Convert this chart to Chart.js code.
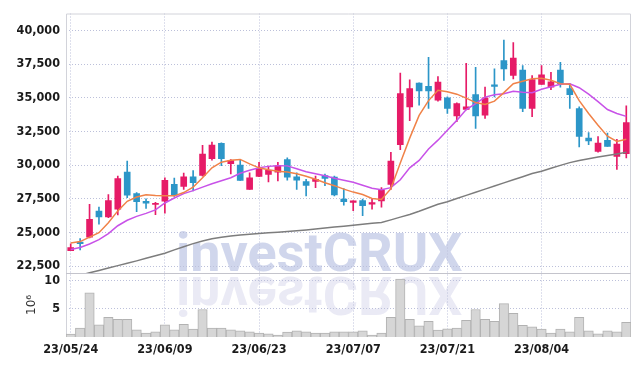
<!DOCTYPE html>
<html>
<head>
<meta charset="utf-8">
<script src="https://cdn.jsdelivr.net/npm/chart.js@4"></script>
<style>
  html, body { margin: 0; padding: 0; background: #fff; }
  #wrap { width: 639px; height: 366px; }
</style>
</head>
<body>
<div id="wrap"><canvas id="myChart"></canvas></div>
<script>
// trading days shown on the chart
const dates = [
  '23/05/24','23/05/25','23/05/26','23/05/30','23/05/31','23/06/01','23/06/02','23/06/05','23/06/07','23/06/08',
  '23/06/09','23/06/12','23/06/13','23/06/14','23/06/15','23/06/16','23/06/19','23/06/20','23/06/21','23/06/22',
  '23/06/23','23/06/26','23/06/27','23/06/28','23/06/29','23/06/30','23/07/03','23/07/04','23/07/05','23/07/06',
  '23/07/07','23/07/10','23/07/11','23/07/12','23/07/13','23/07/14','23/07/17','23/07/18','23/07/19','23/07/20',
  '23/07/21','23/07/24','23/07/25','23/07/26','23/07/27','23/07/28','23/07/31','23/08/01','23/08/02','23/08/03',
  '23/08/04','23/08/07','23/08/08','23/08/09','23/08/10','23/08/11','23/08/14','23/08/16','23/08/17','23/08/18'
];
const tickDates = ['23/05/24','23/06/09','23/06/23','23/07/07','23/07/21','23/08/04'];

const openPrices = [
  23650,24290,24650,26590,26150,26730,29480,27890,27320,27080,
  27320,28570,28420,29130,29230,30480,31610,30110,30000,28200,
  29160,29300,29480,30400,29130,28770,28790,29230,29110,27470,
  27230,27370,27100,27350,28570,31510,34320,36090,35840,34810,
  34990,33640,34130,35230,33710,35960,37750,36650,37060,34200,
  35980,35790,37060,35670,34200,32000,31020,31830,30650,30850
];
const closePrices = [
  23870,24170,25980,26150,27370,28990,27760,27280,27180,27150,
  28860,27760,29130,28690,30820,31480,30480,30330,28860,29060,
  29740,29610,29970,29110,28890,28500,28940,29010,27790,27280,
  27350,26980,27225,28160,30290,35300,35670,35500,35500,36160,
  34200,34570,34320,33640,34990,35840,37140,37950,34200,36350,
  36700,36180,36040,35230,32120,31800,31630,31390,31560,33150
];
const highPrices = [
  24150,24550,27080,26880,27810,29180,30290,27960,27500,27230,
  29060,29040,29410,29600,31460,31700,31650,30400,30400,29430,
  30210,29920,30210,30530,29430,28940,29190,29330,29190,28250,
  27350,27470,27470,28330,30950,36820,36330,36100,38000,36570,
  35060,34620,37560,37260,35790,37140,39270,39090,37380,36650,
  37380,36890,37630,36040,34320,32410,32120,32370,31920,34400
];
const lowPrices = [
  23650,23700,24600,25610,26100,26300,27590,26540,26790,26320,
  26440,27670,28200,28090,29180,30360,29950,29350,28860,28200,
  29150,28750,28820,28890,28200,27720,28330,28470,27720,27030,
  26620,26250,26730,26880,28200,31140,33300,34440,34200,34740,
  33830,33220,34100,32730,33470,35060,36280,36400,33960,33590,
  35980,35590,35790,34200,31340,31510,30950,31390,29670,30530
];

// moving averages
const ma5 = [
  24215,24325,24655,24986,25720,26601,27313,27629,27790,27739,
  27717,27717,27960,28362,29060,29795,30213,30360,30419,30088,
  29795,29648,29538,29486,29354,29170,28950,28693,28473,28216,
  27996,27812,27519,27445,28253,30160,32000,33686,34787,35558,
  35448,35264,34970,34640,34493,34750,35375,36035,36219,36402,
  36439,36292,36035,35998,34787,33833,32952,32144,31755,31924
];
const ma20 = [
  23737,23884,24141,24471,24912,25500,25904,26197,26417,26674,
  27188,27555,27886,28106,28363,28620,28840,29060,29390,29611,
  29795,29905,29956,29942,29722,29501,29354,29207,29023,28877,
  28730,28510,28289,28179,28326,28913,29795,30345,31190,31850,
  32584,33318,34126,34567,35044,35227,35300,35485,35411,35375,
  35632,35815,35998,36035,35741,35264,34713,34126,33833,33613
];
const ma60 = [
  21652,21830,22005,22180,22365,22540,22717,22893,23084,23275,
  23459,23708,23936,24170,24361,24530,24640,24743,24817,24868,
  24920,24971,25023,25074,25126,25192,25265,25331,25405,25470,
  25537,25610,25676,25742,25933,26138,26329,26571,26835,27093,
  27284,27519,27754,27981,28216,28444,28679,28906,29134,29369,
  29540,29765,29978,30184,30338,30463,30595,30705,30830,30947
];

// volume in millions
const volume = [
  0.52,1.57,7.85,2.15,3.49,3.14,3.14,1.27,0.70,0.92,
  2.15,1.27,2.27,1.40,4.89,1.57,1.57,1.27,1.10,0.92,
  0.70,0.58,0.35,0.87,1.10,0.92,0.70,0.70,0.92,0.92,
  0.92,1.10,0.35,0.70,3.49,10.3,3.14,1.97,2.79,1.22,
  1.45,1.57,2.97,4.89,3.14,2.79,5.93,4.19,2.09,1.80,
  1.40,0.70,1.40,0.92,3.49,1.10,0.58,1.10,0.92,2.62
];

const priceTicks = [22500, 25000, 27500, 30000, 32500, 35000, 37500, 40000];
const volumeTicks = [5, 10];

const upColor = 'rgb(230, 27, 103)';
const downColor = 'rgb(44, 150, 200)';
const candleColors = closePrices.map((c, i) => c >= openPrices[i] ? upColor : downColor);

const gridColor = '#bcc0da';
const labelFont = { family: "'DejaVu Sans Condensed', 'DejaVu Sans'", size: 12.5, weight: 'bold' };

// watermark (under the grid), frame and panel divider
const decorations = {
  id: 'decorations',
  beforeDraw(chart) {
    const { ctx, chartArea } = chart;
    const split = chart.scales.y.bottom;
    const tx = chartArea.left + 110;

    ctx.save();
    ctx.font = 'bold 54px Roboto';
    ctx.fillStyle = 'rgba(150, 165, 212, 0.45)';
    ctx.fillText('investCRUX', tx, split - 2);
    ctx.beginPath();
    ctx.rect(chartArea.left, split, chartArea.right - chartArea.left, chartArea.bottom - split);
    ctx.clip();
    ctx.translate(0, split * 2 + 2);
    ctx.scale(1, -1);
    ctx.fillStyle = 'rgba(150, 150, 205, 0.2)';
    ctx.fillText('investCRUX', tx, split - 2);
    ctx.restore();
  },
  beforeDatasetsDraw(chart) {
    const { ctx, chartArea } = chart;
    const split = chart.scales.y.bottom;
    ctx.save();
    ctx.lineWidth = 1;
    ctx.strokeStyle = '#d2d3da';
    ctx.beginPath();
    ctx.moveTo(chartArea.left + 0.5, chartArea.bottom);
    ctx.lineTo(chartArea.left + 0.5, chartArea.top + 0.5);
    ctx.lineTo(chartArea.right - 0.5, chartArea.top + 0.5);
    ctx.lineTo(chartArea.right - 0.5, chartArea.bottom);
    ctx.stroke();
    ctx.strokeStyle = '#c4c4cc';
    ctx.beginPath();
    ctx.moveTo(chartArea.left, Math.round(split) + 0.5);
    ctx.lineTo(chartArea.right, Math.round(split) + 0.5);
    ctx.stroke();
    ctx.restore();
  }
};

const ctx = document.getElementById('myChart').getContext('2d');
const myChart = new Chart(ctx, {
  type: 'bar',
  data: {
    labels: dates,
    datasets: [
      { type: 'line', label: 'MA5', data: ma5, borderColor: 'rgb(240, 130, 72)', borderWidth: 1.5, pointRadius: 0, yAxisID: 'y', order: 0 },
      { type: 'line', label: 'MA20', data: ma20, borderColor: 'rgb(200, 82, 232)', borderWidth: 1.5, pointRadius: 0, yAxisID: 'y', order: 0 },
      { type: 'line', label: 'MA60', data: ma60, borderColor: 'rgb(125, 125, 125)', borderWidth: 1.5, pointRadius: 0, yAxisID: 'y', order: 0 },
      {
        label: 'Body',
        data: openPrices.map((o, i) => [o, closePrices[i]]),
        backgroundColor: candleColors,
        barThickness: 6,
        minBarLength: 1,
        grouped: false,
        yAxisID: 'y',
        order: 1
      },
      {
        label: 'Wick',
        data: lowPrices.map((l, i) => [l, highPrices[i]]),
        backgroundColor: candleColors,
        barThickness: 1,
        grouped: false,
        yAxisID: 'y',
        order: 2
      },
      {
        label: 'Volume',
        data: volume,
        backgroundColor: '#d6d6d6',
        borderColor: '#b2b2b2',
        borderWidth: 1,
        barPercentage: 1,
        categoryPercentage: 1,
        grouped: false,
        yAxisID: 'yv',
        order: 3
      }
    ]
  },
  options: {
    responsive: true,
    maintainAspectRatio: false,
    animation: false,
    events: [],
    layout: { padding: { top: 9, right: 8, left: 0, bottom: 0 } },
    plugins: { legend: { display: false }, tooltip: { enabled: false } },
    scales: {
      x: {
        type: 'category',
        offset: true,
        grid: { offset: false, color: gridColor, drawTicks: false },
        border: { display: false, dash: [1, 2] },
        afterBuildTicks: (scale) => {
          scale.ticks = scale.ticks.filter(t => tickDates.includes(dates[t.value]));
        },
        afterFit: (scale) => { scale.height = 29; },
        ticks: { autoSkip: false, maxRotation: 0, padding: 5, color: '#1a1a1a', font: labelFont }
      },
      yv: {
        type: 'linear',
        position: 'left',
        stack: 'panels',
        stackWeight: 65,
        min: 0,
        max: 11.4,
        afterBuildTicks: (scale) => { scale.ticks = volumeTicks.map(v => ({ value: v })); },
        afterFit: (scale) => { scale.width = 66; },
        grid: { color: gridColor, drawTicks: false },
        border: { display: false, dash: [1, 2] },
        title: { display: true, text: '10⁶', color: '#333', font: { family: "'DejaVu Sans'", size: 12 }, padding: { top: 25, bottom: 0 } },
        ticks: { autoSkip: false, padding: 6, color: '#1a1a1a', font: labelFont }
      },
      y: {
        type: 'linear',
        position: 'left',
        stack: 'panels',
        stackWeight: 263,
        min: 22000,
        max: 41250,
        afterBuildTicks: (scale) => { scale.ticks = priceTicks.map(v => ({ value: v })); },
        afterFit: (scale) => { scale.width = 66; },
        grid: { color: gridColor, drawTicks: false },
        border: { display: false, dash: [1, 2] },
        ticks: { autoSkip: false, padding: 6, color: '#1a1a1a', font: labelFont, callback: (v) => v.toLocaleString('en-US') }
      }
    }
  },
  plugins: [decorations]
});
</script>
</body>
</html>
